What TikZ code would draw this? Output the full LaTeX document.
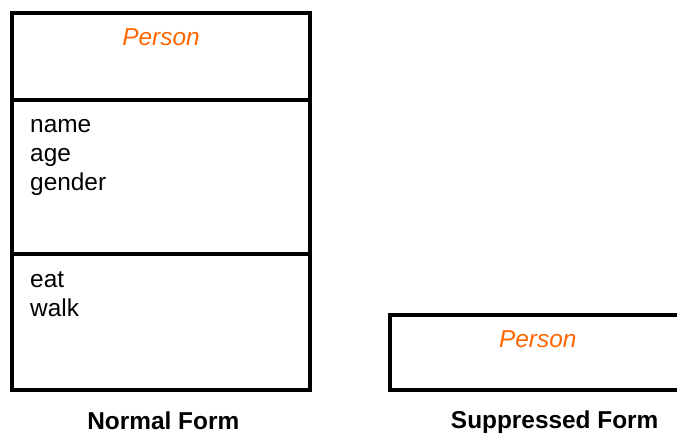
\documentclass[tikz,border=0pt]{standalone}
\usepackage{fontspec}
\setmainfont{Liberation Sans}
\definecolor{clsorange}{RGB}{255,102,0}
\tikzset{
  box/.style={draw=black, line width=4pt},
  cname/.style={font=\fontsize{24.4}{29}\selectfont\itshape, text=clsorange, inner sep=0pt, anchor=base},
  member/.style={font=\fontsize{24.4}{29}\selectfont, inner sep=0pt, anchor=base west},
  caption/.style={font=\fontsize{24.4}{29}\selectfont\bfseries, inner sep=0pt, anchor=base},
}
\begin{document}
\begin{tikzpicture}[x=1pt, y=-1pt]
\useasboundingbox (0,0) rectangle (677,434);
\clip (0,0) rectangle (677,434);
% normal form
\draw[box] (12,13) rectangle (310,390);
\coordinate (d1l) at (12,99.5);
\coordinate (d1r) at (310,99.5);
\coordinate (d2l) at (12,253.5);
\coordinate (d2r) at (310,253.5);
\draw[box] (d1l) -- (d1r);
\draw[box] (d2l) -- (d2r);
\node[cname] (p1) at (161,45.7) {Person};
\node[member] (a1) at (30,132.5) {name};
\node[member] (a2) at (30,161.5) {age};
\node[member] (a3) at (30,190.5) {gender};
\node[member] (m1) at (30,287) {eat};
\node[member] (m2) at (30,316) {walk};
\node[caption] (c1) at (163.3,429.3) {Normal Form};
% suppressed form
\draw[box] (389.5,315) rectangle (686,389.5);
\node[cname] (p2) at (537.8,347.7) {Person};
\node[caption] (c2) at (554.7,428) {Suppressed Form};
\end{tikzpicture}
\end{document}
